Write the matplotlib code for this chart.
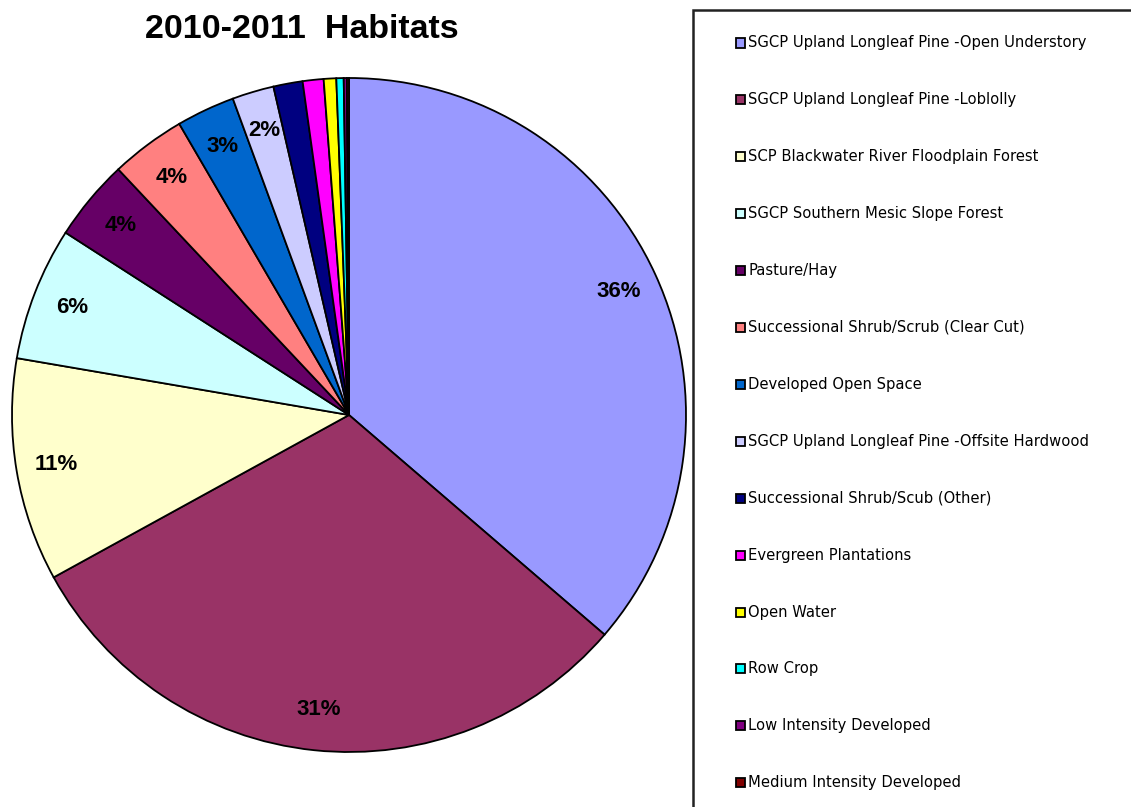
import matplotlib
matplotlib.use("Agg")
import matplotlib.pyplot as plt
from matplotlib.patches import Rectangle

habitats = [
    "SGCP Upland Longleaf Pine -Open Understory",
    "SGCP Upland Longleaf Pine -Loblolly",
    "SCP Blackwater River Floodplain Forest",
    "SGCP Southern Mesic Slope Forest",
    "Pasture/Hay",
    "Successional Shrub/Scrub (Clear Cut)",
    "Developed Open Space",
    "SGCP Upland Longleaf Pine -Offsite Hardwood",
    "Successional Shrub/Scub (Other)",
    "Evergreen Plantations",
    "Open Water",
    "Row Crop",
    "Low Intensity Developed",
    "Medium Intensity Developed",
]
share = [36.3, 30.7, 10.7, 6.4, 3.9, 3.6, 2.8, 2.0, 1.4, 1.0, 0.6, 0.35, 0.15, 0.1]
colors = ["#9999FF", "#993366", "#FFFFCC", "#CCFFFF", "#660066", "#FF8080",
          "#0066CC", "#CCCCFF", "#000080", "#FF00FF", "#FFFF00", "#00FFFF",
          "#800080", "#800000"]

W, H = 1131, 807
fig = plt.figure(figsize=(W / 100, H / 100), dpi=100)

# pie centre (349, 415) px, radius 337 px
cx, cy, r = 349, 415, 337
pad = 1.02
ax = fig.add_axes([(cx - r * pad) / W, (H - cy - r * pad) / H,
                   2 * r * pad / W, 2 * r * pad / H])


def pct_label(p):
    return f"{p:.0f}%" if p >= 1.95 else ""


wedges, texts, autotexts = ax.pie(
    share, colors=colors, startangle=90, counterclock=False,
    autopct=pct_label, pctdistance=0.88,
    wedgeprops=dict(edgecolor="black", linewidth=1.3),
    textprops=dict(fontsize=16, fontweight="bold", family="Liberation Sans"))
ax.set_xlim(-pad, pad)
ax.set_ylim(-pad, pad)
ax.set_aspect("equal")

fig.text(302 / W, 1 - 29 / H, "2010-2011  Habitats", ha="center", va="center",
         fontsize=24.5, fontweight="bold", family="Liberation Sans")

# legend box, runs off the right and bottom edges
fig.add_artist(Rectangle((693 / W, -0.05), 0.5, 1 - 10 / H + 0.05,
                         transform=fig.transFigure, fill=False,
                         edgecolor="#222222", linewidth=1.8))

y0, step = 43, 56.9
sq = 9
for i, (name, c) in enumerate(zip(habitats, colors)):
    y = y0 + i * step
    fig.add_artist(Rectangle((736 / W, 1 - (y + sq / 2) / H), sq / W, sq / H,
                             transform=fig.transFigure, facecolor=c,
                             edgecolor="black", linewidth=1.3))
    fig.text(748 / W, 1 - y / H, name, ha="left", va="center",
             fontsize=10.6, family="DejaVu Sans")

fig.savefig("out.png", dpi=100)
